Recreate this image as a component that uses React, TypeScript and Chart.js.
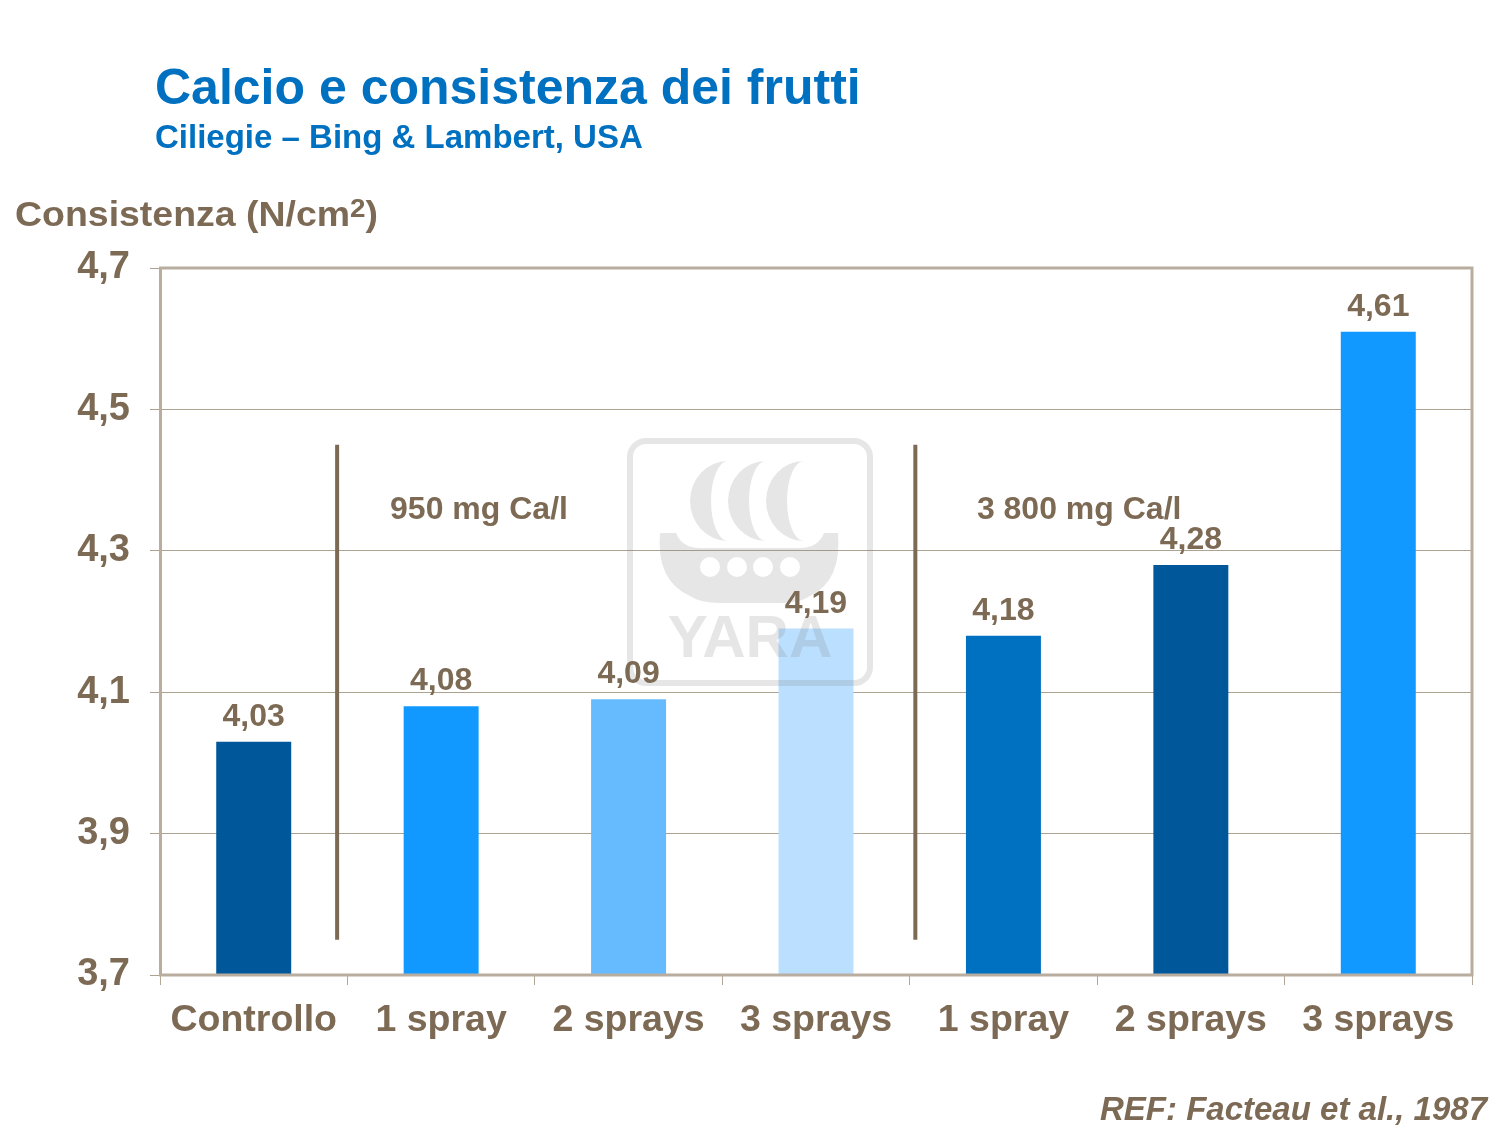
import React, { useEffect, useRef } from "react";
import { Chart, registerables } from "chart.js";

Chart.register(...registerables);

const categories = ["Controllo", "1 spray", "2 sprays", "3 sprays", "1 spray", "2 sprays", "3 sprays"];
const values = [4.03, 4.08, 4.09, 4.19, 4.18, 4.28, 4.61];
const barColors = ["#00589b", "#1199ff", "#66bbff", "#bbdfff", "#0070c0", "#00589b", "#1199ff"];
const yTicks = [3.7, 3.9, 4.1, 4.3, 4.5, 4.7];
const groupLabels = ["950 mg Ca/l", "3 800 mg Ca/l"];

const FONT = '"Liberation Sans", Arial, Helvetica, sans-serif';
const BROWN = "#7d6a55";
const BLUE = "#0070c0";

const fmt = (v: number, d: number) => v.toFixed(d).replace(".", ",");

const decor = {
  id: "decor",
  afterDatasetsDraw(chart: any) {
    const { ctx, chartArea } = chart;
    const L = chartArea.left + 470;
    const T = chartArea.top + 173;
    ctx.save();
    const wm = "rgba(128,128,128,0.2)";
    ctx.strokeStyle = wm;
    ctx.lineWidth = 6;
    ctx.beginPath();
    (ctx as any).roundRect(L, T, 240, 242, 16);
    ctx.stroke();
    ctx.fillStyle = wm;
    for (let k = 0; k < 3; k++) {
      const sx = L + 60 + k * 38;
      const cx = sx + 38;
      const cy = T + 60;
      ctx.beginPath();
      ctx.ellipse(cx, cy, 38, 40, 0, -Math.PI / 2, Math.PI / 2, true);
      ctx.ellipse(cx, cy, 17, 40, 0, Math.PI / 2, (3 * Math.PI) / 2, false);
      ctx.closePath();
      ctx.fill();
    }
    ctx.beginPath();
    ctx.moveTo(L + 30, T + 92);
    ctx.lineTo(L + 46, T + 92);
    ctx.quadraticCurveTo(L + 52, T + 107, L + 70, T + 107);
    ctx.lineTo(L + 170, T + 107);
    ctx.quadraticCurveTo(L + 188, T + 107, L + 194, T + 92);
    ctx.lineTo(L + 208, T + 92);
    ctx.quadraticCurveTo(L + 212, T + 140, L + 180, T + 155);
    ctx.quadraticCurveTo(L + 170, T + 162, L + 150, T + 162);
    ctx.lineTo(L + 90, T + 162);
    ctx.quadraticCurveTo(L + 70, T + 162, L + 60, T + 155);
    ctx.quadraticCurveTo(L + 26, T + 140, L + 30, T + 92);
    ctx.closePath();
    [80, 107, 133, 160].forEach((dx) => {
      ctx.moveTo(L + dx + 10, T + 126);
      ctx.arc(L + dx, T + 126, 10, 0, Math.PI * 2);
    });
    ctx.fill("evenodd");
    ctx.font = `bold 60px ${FONT}`;
    ctx.textAlign = "center";
    ctx.textBaseline = "alphabetic";
    ctx.fillText("YARA", L + 120, T + 216);
    ctx.restore();
  },
  afterDraw(chart: any) {
    const { ctx, chartArea, scales } = chart;
    const x = scales.x;
    const y = scales.y;
    ctx.save();
    ctx.strokeStyle = "#b8ad9f";
    ctx.lineWidth = 3;
    ctx.strokeRect(chartArea.left + 0.5, chartArea.top, chartArea.right - chartArea.left - 0.5, chartArea.bottom - chartArea.top);
    ctx.strokeStyle = BROWN;
    ctx.lineWidth = 4;
    [0.445, 3.53].forEach((c) => {
      const px = x.getPixelForValue(c);
      ctx.beginPath();
      ctx.moveTo(px, y.getPixelForValue(4.45));
      ctx.lineTo(px, y.getPixelForValue(3.75));
      ctx.stroke();
    });
    ctx.fillStyle = BROWN;
    ctx.font = `bold 32px ${FONT}`;
    ctx.textAlign = "center";
    ctx.textBaseline = "alphabetic";
    [1.202, 4.404].forEach((c, i) => {
      ctx.fillText(groupLabels[i], x.getPixelForValue(c), y.getPixelForValue(4.345));
    });
    ctx.font = `bold 32px ${FONT}`;
    chart.getDatasetMeta(0).data.forEach((bar: any, i: number) => {
      ctx.fillText(fmt(values[i], 2), bar.x, bar.y - 16);
    });
    ctx.restore();
  },
};

export default function App() {
  const ref = useRef<HTMLCanvasElement | null>(null);
  useEffect(() => {
    if (!ref.current) return;
    const chart = new Chart(ref.current, {
      type: "bar",
      data: {
        labels: categories,
        datasets: [
          {
            data: values,
            backgroundColor: barColors,
            borderWidth: 0,
            categoryPercentage: 1,
            barPercentage: 0.4,
          },
        ],
      },
      options: {
        responsive: false,
        animation: false,
        layout: { padding: { left: 0, top: 268, right: 29, bottom: 0 } },
        plugins: {
          legend: { display: false },
          tooltip: { enabled: false },
          title: { display: false },
        },
        scales: {
          x: {
            grid: {
              display: true,
              drawOnChartArea: false,
              drawTicks: true,
              tickLength: 10,
              color: "#b3a898",
              offset: true,
            },
            border: { display: false },
            ticks: {
              color: BROWN,
              font: { family: FONT, size: 37.5, weight: "bold" },
              padding: 13,
            },
            afterFit: (s: any) => {
              s.height = 150;
            },
          },
          y: {
            min: 3.7,
            max: 4.7,
            afterBuildTicks: (s: any) => {
              s.ticks = yTicks.map((v) => ({ value: v }));
            },
            grid: { color: "#ada190", tickLength: 10, lineWidth: 1 },
            border: { display: false },
            ticks: {
              color: BROWN,
              font: { family: FONT, size: 38, weight: "bold" },
              padding: 20,
              callback: (v: any) => fmt(Number(v), 1),
            },
            afterFit: (s: any) => {
              s.width = 160;
            },
          },
        },
      } as any,
      plugins: [decor],
    });
    return () => chart.destroy();
  }, []);

  return (
    <div
      style={{
        position: "absolute",
        left: 0,
        top: 0,
        width: 1501,
        height: 1125,
        background: "#fff",
        fontFamily: FONT,
        fontWeight: "bold",
        overflow: "hidden",
      }}
    >
      <canvas ref={ref} width={1501} height={1125} style={{ position: "absolute", left: 0, top: 0, width: 1501, height: 1125 }} />
      <div style={{ position: "absolute", left: 155, top: 62, fontSize: 50, lineHeight: 1, color: BLUE, whiteSpace: "nowrap" }}>
        Calcio e consistenza dei frutti
      </div>
      <div style={{ position: "absolute", left: 155, top: 120, fontSize: 33, lineHeight: 1, color: BLUE, whiteSpace: "nowrap" }}>
        Ciliegie – Bing &amp; Lambert, USA
      </div>
      <div
        style={{
          position: "absolute",
          left: 15,
          top: 196,
          fontSize: 35,
          lineHeight: 1,
          color: BROWN,
          whiteSpace: "nowrap",
          transform: "scaleX(1.07)",
          transformOrigin: "left top",
        }}
      >
        Consistenza (N/cm<sup style={{ fontSize: 26, verticalAlign: "top", lineHeight: 1, position: "relative", top: -1 }}>2</sup>)
      </div>
      <div
        style={{
          position: "absolute",
          right: 14,
          top: 1092,
          fontSize: 33,
          lineHeight: 1,
          color: BROWN,
          fontStyle: "italic",
          whiteSpace: "nowrap",
        }}
      >
        REF: Facteau et al., 1987
      </div>
    </div>
  );
}
